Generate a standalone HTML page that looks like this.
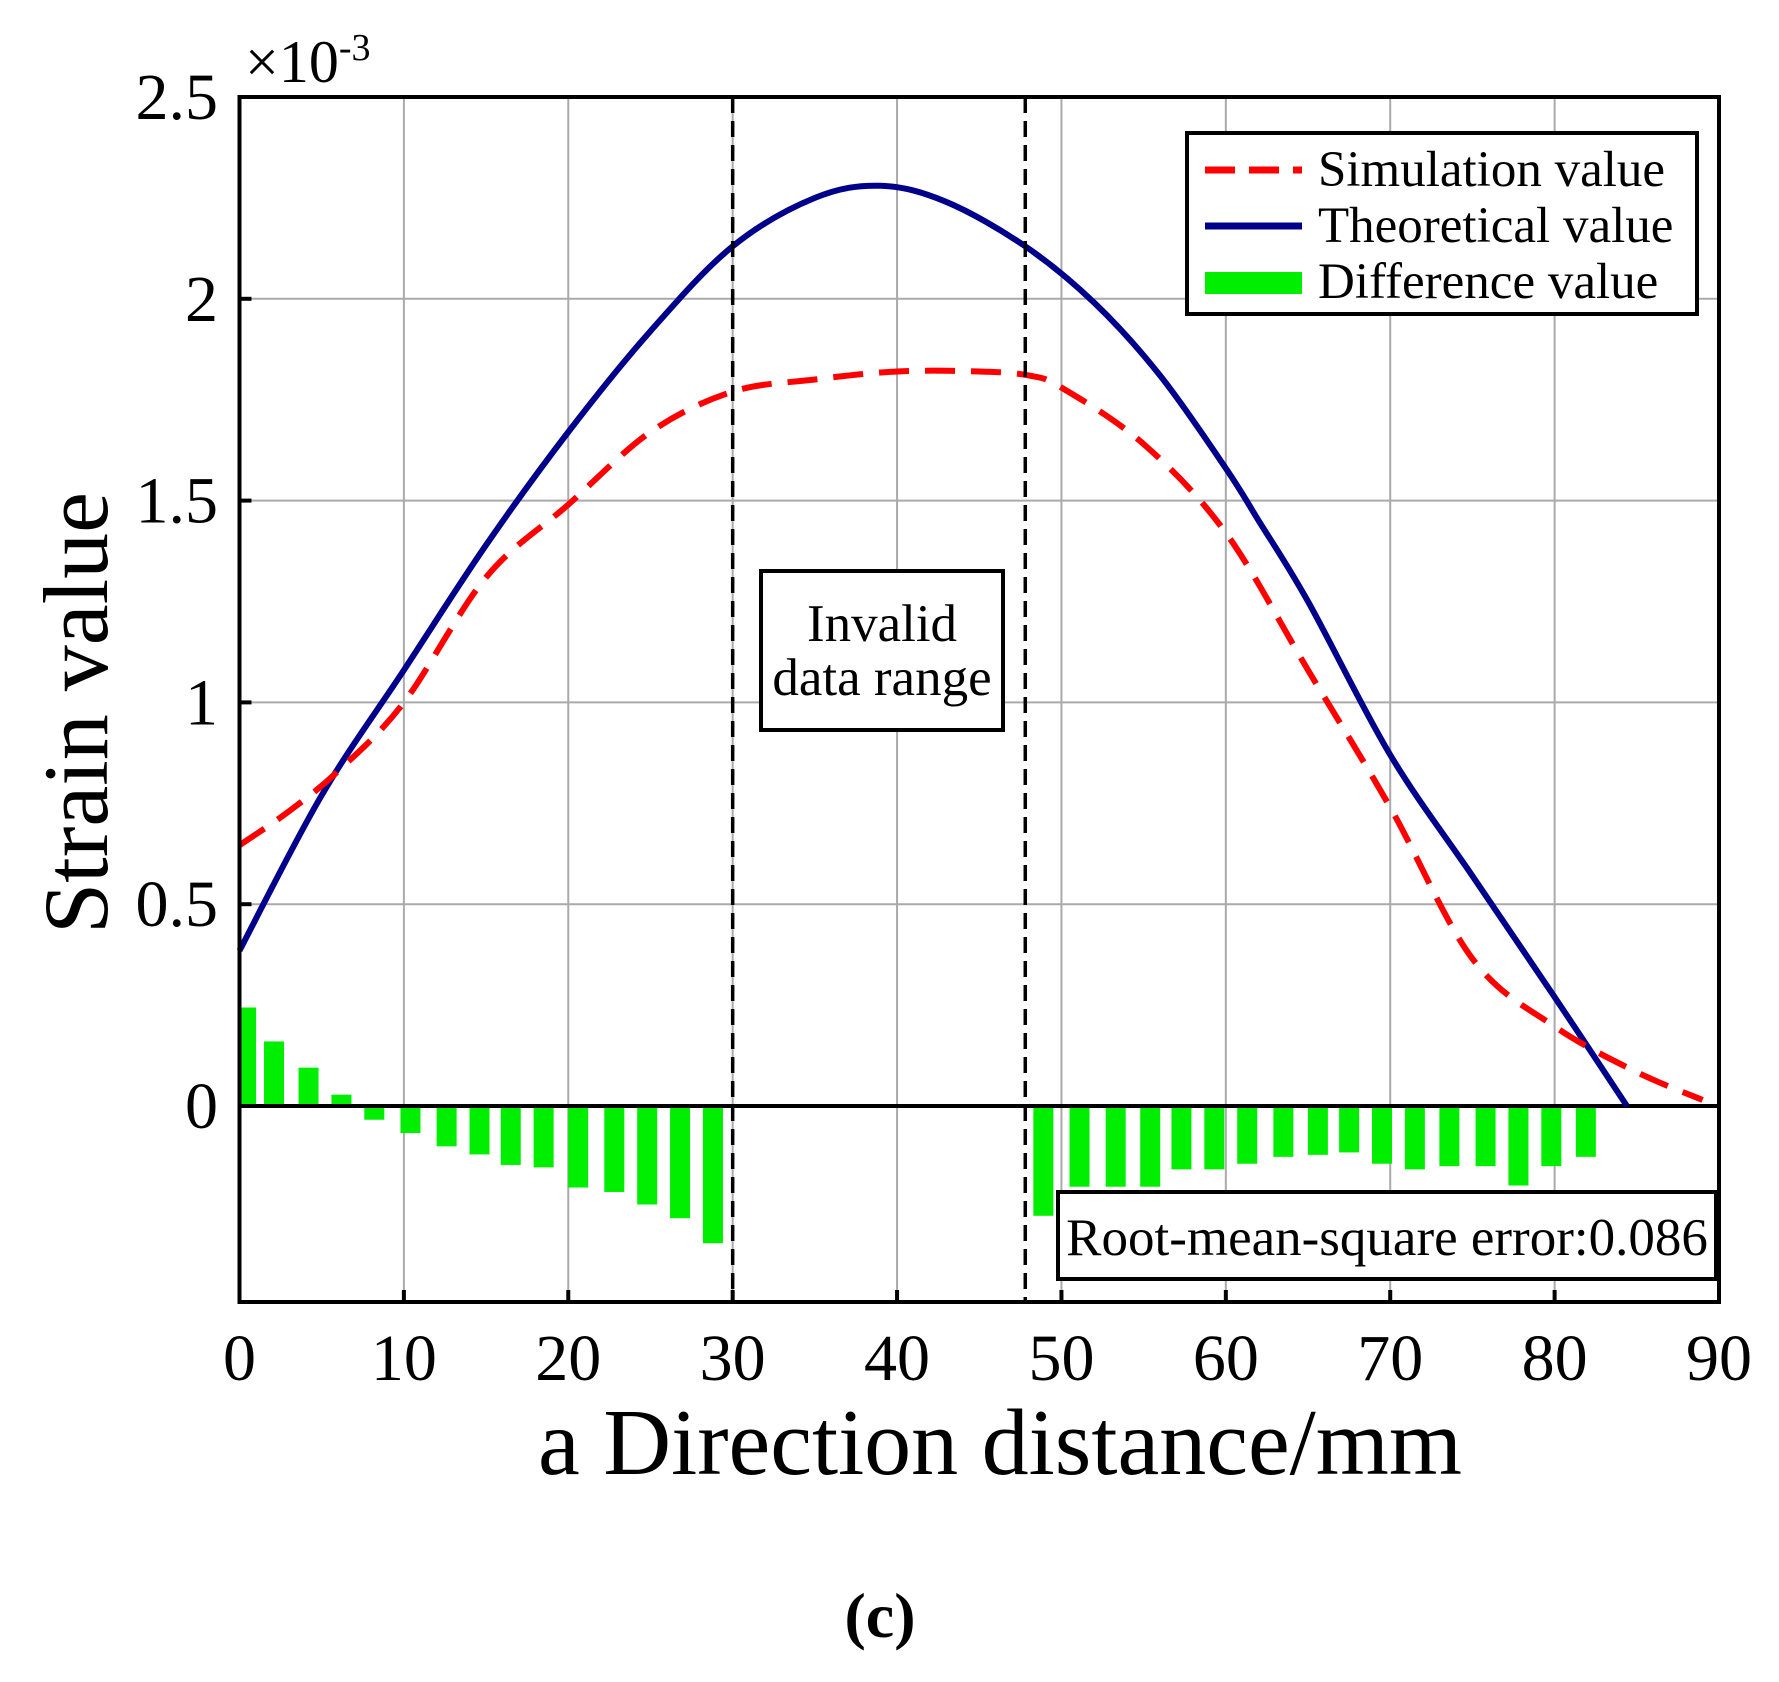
<!DOCTYPE html>
<html><head><meta charset="utf-8"><style>
body{margin:0;background:#fff}
svg{display:block;font-family:"Liberation Serif",serif}
</style></head><body>
<svg id="chart" width="1779" height="1682" viewBox="0 0 1779 1682"></svg>
<script>
const xTicks=[0,10,20,30,40,50,60,70,80,90];
const yTicks=[0,0.5,1,1.5,2,2.5];
const yTickLabels=["0","0.5","1","1.5","2","2.5"];
const theoX=[0,5,10,15,20,25,30,35,39,43,47.8,52,56,60,62,65,70,75,80,84.4];
const theoY=[0.385,0.77,1.08,1.39,1.67,1.92,2.13,2.25,2.28,2.24,2.13,1.99,1.81,1.58,1.45,1.25,0.87,0.57,0.27,0];
const simX=[0,3,6,10,15,20,25,30,35,40,45,48,50,55,60,65,70,75,80,85,89];
const simY=[0.646,0.73,0.83,1.0,1.31,1.49,1.67,1.77,1.80,1.82,1.82,1.81,1.78,1.64,1.42,1.08,0.74,0.365,0.197,0.084,0.015];
const barX=[0.4,2.1,4.2,6.2,8.2,10.4,12.6,14.6,16.5,18.5,20.6,22.8,24.8,26.8,28.8,
48.9,51.1,53.3,55.4,57.3,59.3,61.3,63.5,65.6,67.5,69.5,71.5,73.6,75.8,77.8,79.8,81.9];
const barY=[0.244,0.16,0.095,0.028,-0.034,-0.067,-0.10,-0.12,-0.146,-0.152,-0.202,-0.213,-0.244,-0.278,-0.34,
-0.272,-0.2,-0.2,-0.2,-0.157,-0.157,-0.143,-0.126,-0.121,-0.115,-0.143,-0.157,-0.149,-0.149,-0.197,-0.149,-0.126];
const invalidLines=[30,47.8];

const L=239.5,R=1719,T=97,B=1302;
const X=v=>L+v*(R-L)/90;
const Y=v=>1106-v*403.6;
const svg=document.getElementById('chart');
const NS='http://www.w3.org/2000/svg';
function mk(tag,attrs,parent){const e=document.createElementNS(NS,tag);for(const k in attrs)e.setAttribute(k,attrs[k]);(parent||svg).appendChild(e);return e;}

xTicks.forEach(t=>{if(t>0&&t<90){const g=mk('line',{x1:X(t),x2:X(t),y1:T,y2:B,stroke:'#aaa','stroke-width':2});

}});
yTicks.forEach(t=>{if(t>0&&t<2.5){const g=mk('line',{x1:L,x2:R,y1:Y(t),y2:Y(t),stroke:'#aaa','stroke-width':2});

}});

barX.forEach((bx,i)=>{const v=barY[i];let x0=X(bx)-10,w=20;if(x0<L+2){w-=(L+2-x0);x0=L+2;}
const r=mk('rect',{x:x0,y:Math.min(Y(v),Y(0)),width:w,height:Math.abs(Y(v)-Y(0)),fill:'#00ee00'});

});

const z=mk('line',{x1:L,x2:R,y1:Y(0),y2:Y(0),stroke:'#000','stroke-width':4});



function smooth(xs,ys){const p=xs.map((x,i)=>[X(x),Y(ys[i])]);let d='M'+p[0][0]+','+p[0][1];
for(let i=0;i<p.length-1;i++){const p0=p[i-1]||p[i],p1=p[i],p2=p[i+1],p3=p[i+2]||p2;
d+=' C'+(p1[0]+(p2[0]-p0[0])/6)+','+(p1[1]+(p2[1]-p0[1])/6)+' '+(p2[0]-(p3[0]-p1[0])/6)+','+(p2[1]-(p3[1]-p1[1])/6)+' '+p2[0]+','+p2[1];}
return d;}
const th=mk('path',{d:smooth(theoX,theoY),fill:'none',stroke:'#00008b','stroke-width':6});


const sm=mk('path',{d:smooth(simX,simY),fill:'none',stroke:'#ff0000','stroke-width':6,'stroke-dasharray':'30 16'});



invalidLines.forEach(v=>{const l=mk('line',{x1:X(v),x2:X(v),y1:T,y2:B,stroke:'#000','stroke-width':3.5,'stroke-dasharray':'16 8'});

});

const fr=mk('rect',{x:L,y:T,width:R-L,height:B-T,fill:'none',stroke:'#000','stroke-width':4});



xTicks.forEach(t=>{mk('line',{x1:X(t),x2:X(t),y1:B,y2:B-12,stroke:'#000','stroke-width':4});
const tx=mk('text',{x:X(t),y:1380,'font-size':66,'text-anchor':'middle'});tx.textContent=t;

});
yTicks.forEach((t,i)=>{mk('line',{x1:L,x2:L+12,y1:Y(t),y2:Y(t),stroke:'#000','stroke-width':4});
const tx=mk('text',{x:218,y:Y(t)+22,'font-size':66,'text-anchor':'end'});tx.textContent=yTickLabels[i];

});
</script>
<svg width="1779" height="1682" style="position:absolute;left:0;top:0" font-family="Liberation Serif, serif">
<text x="245" y="82" font-size="60">×10<tspan font-size="38" dy="-22">-3</tspan></text>
<text transform="translate(107,713) rotate(-90)" font-size="92" text-anchor="middle">Strain value</text>
<text x="1000" y="1474" font-size="94" text-anchor="middle">a Direction distance/mm</text>
<text x="880" y="1637" font-size="64" font-weight="bold" text-anchor="middle">(c)</text>
<g>
<rect x="1187" y="133" width="510" height="181" fill="#fff" stroke="#000" stroke-width="4"/>
<line x1="1205" x2="1302" y1="170" y2="170" stroke="#f00" stroke-width="7" stroke-dasharray="30 14"/>
<text x="1318" y="186" font-size="51">Simulation value</text>
<line x1="1205" x2="1302" y1="226" y2="226" stroke="#00008b" stroke-width="7"/>
<text x="1318" y="242" font-size="51">Theoretical value</text>
<rect x="1205" y="272" width="97" height="22" fill="#00ee00"/>
<text x="1318" y="298" font-size="51">Difference value</text>
</g>
<g>
<rect x="761" y="571" width="242" height="159" fill="#fff" stroke="#000" stroke-width="4"/>
<text x="882" y="641" font-size="53" text-anchor="middle">Invalid</text>
<text x="882" y="695" font-size="53" text-anchor="middle">data range</text>
</g>
<g>
<rect x="1058" y="1192" width="658" height="87" fill="#fff" stroke="#000" stroke-width="4"/>
<text x="1387" y="1255" font-size="53" text-anchor="middle">Root-mean-square error:0.086</text>
</g>
</svg>
</body></html>
